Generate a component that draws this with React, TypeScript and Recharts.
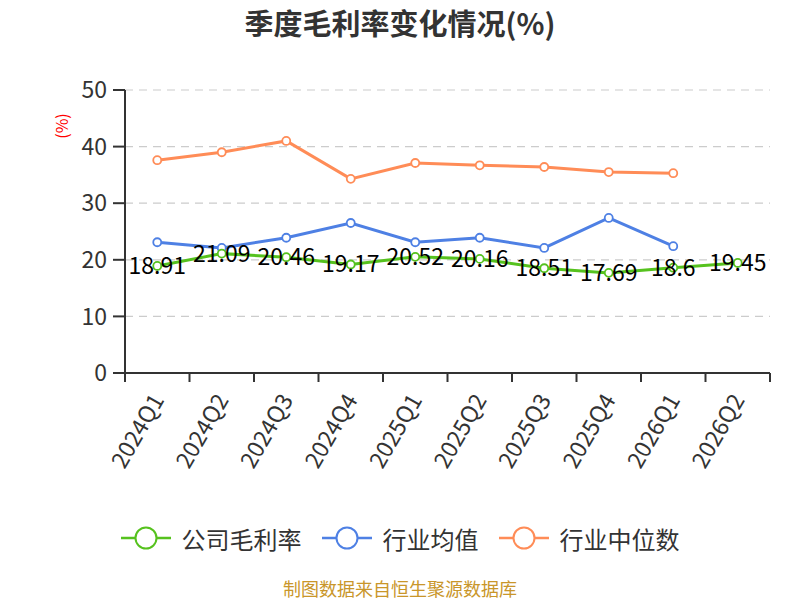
import React from 'react';
import { LineChart, Line, XAxis, YAxis, CartesianGrid, LabelList } from 'recharts';

const categories = ['2024Q1', '2024Q2', '2024Q3', '2024Q4', '2025Q1', '2025Q2', '2025Q3', '2025Q4', '2026Q1', '2026Q2'];
const companyMargin = [18.91, 21.09, 20.46, 19.17, 20.52, 20.16, 18.51, 17.69, 18.6, 19.45];
const industryAvg = [23.1, 22.1, 23.9, 26.5, 23.1, 23.9, 22.1, 27.4, 22.4, null];
const industryMedian = [37.6, 39.0, 41.0, 34.3, 37.1, 36.7, 36.4, 35.5, 35.3, null];
const yTicks = [0, 10, 20, 30, 40, 50];

const seriesNames = ['公司毛利率', '行业均值', '行业中位数'];
const colors = ['#56c21e', '#4e80e4', '#ff8c57'];

const data = categories.map((c, i) => ({
  name: c,
  company: companyMargin[i],
  avg: industryAvg[i],
  median: industryMedian[i],
}));

const W = 800;
const H = 600;
const LEFT = 125;
const RIGHT_MARGIN = 30;
const TOP = 90;
const X_AXIS_H = 227;
const PLOT_W = W - LEFT - RIGHT_MARGIN;
const PLOT_BOTTOM = H - X_AXIS_H;
const BAND = PLOT_W / categories.length;
const FONT = '"Noto Sans CJK SC", "Noto Sans", sans-serif';

const XTick = (props: any) => {
  const { x, payload, index } = props;
  const ay = PLOT_BOTTOM;
  const tx = x - 1;
  const ty = ay + 22;
  return (
    <g>
      <line x1={x - BAND / 2} x2={x - BAND / 2} y1={ay} y2={ay + 9} stroke="#333" strokeWidth={2} />
      {index === categories.length - 1 && (
        <line x1={x + BAND / 2} x2={x + BAND / 2} y1={ay} y2={ay + 9} stroke="#333" strokeWidth={2} />
      )}
      <text
        x={tx}
        y={ty}
        textAnchor="end"
        dominantBaseline="central"
        transform={`rotate(-60, ${tx}, ${ty})`}
        fontSize={23}
        fill="#333"
        fontFamily={FONT}
      >
        {payload.value}
      </text>
    </g>
  );
};

const ValueLabel = (props: any) => {
  const { x, y, value } = props;
  if (value == null) return null;
  return (
    <text x={x} y={y - 2} textAnchor="middle" dominantBaseline="central" fontSize={23} fill="#000" fontFamily={FONT}>
      {value}
    </text>
  );
};

const dot = (c: string) => ({ r: 4, fill: '#fff', stroke: c, strokeWidth: 1.8 });

export default function App() {
  return (
    <div style={{ position: 'absolute', left: 0, top: 0, width: W, height: H, background: '#fff', fontFamily: FONT, overflow: 'hidden' }}>
      <div
        style={{
          position: 'absolute', left: 0, top: 3, width: W, textAlign: 'center',
          fontSize: 29, fontWeight: 'bold', color: '#333', lineHeight: '38px',
        }}
      >
        季度毛利率变化情况(%)
      </div>
      <div
        style={{
          position: 'absolute', left: 61, top: 126, transform: 'translate(-50%, -50%) rotate(-90deg)',
          fontSize: 16, color: '#f00', whiteSpace: 'nowrap', lineHeight: '20px',
        }}
      >
        (%)
      </div>
      <LineChart width={W} height={H} data={data} margin={{ top: TOP, right: RIGHT_MARGIN, bottom: 0, left: 0 }}>
        <CartesianGrid vertical={false} stroke="#ccc" strokeDasharray="8 6" strokeWidth={1.2} />
        <XAxis
          dataKey="name"
          height={X_AXIS_H}
          interval={0}
          padding={{ left: BAND / 2, right: BAND / 2 }}
          tickLine={false}
          axisLine={{ stroke: '#333', strokeWidth: 2 }}
          tick={<XTick />}
        />
        <YAxis
          width={LEFT}
          domain={[0, 50]}
          ticks={yTicks}
          interval={0}
          tickSize={12}
          tickMargin={6}
          axisLine={{ stroke: '#333', strokeWidth: 2 }}
          tickLine={{ stroke: '#333', strokeWidth: 2 }}
          tick={{ fontSize: 23, fill: '#333', fontFamily: FONT }}
        />
        <Line dataKey="median" stroke={colors[2]} strokeWidth={3} dot={dot(colors[2])} isAnimationActive={false} />
        <Line dataKey="avg" stroke={colors[1]} strokeWidth={3} dot={dot(colors[1])} isAnimationActive={false} />
        <Line dataKey="company" stroke={colors[0]} strokeWidth={3} dot={dot(colors[0])} isAnimationActive={false}>
          <LabelList dataKey="company" content={<ValueLabel />} />
        </Line>
      </LineChart>
      <div
        style={{
          position: 'absolute', left: 0, top: 519, width: W, display: 'flex',
          justifyContent: 'center', gap: 20,
        }}
      >
        {seriesNames.map((n, i) => (
          <div key={n} style={{ display: 'flex', alignItems: 'center', height: 38 }}>
            <svg width={50} height={26} style={{ marginRight: 11 }}>
              <line x1={0} x2={50} y1={13} y2={13} stroke={colors[i]} strokeWidth={2.5} />
              <circle cx={25} cy={13} r={10.5} fill="#fff" stroke={colors[i]} strokeWidth={2} />
            </svg>
            <span style={{ fontSize: 24, color: '#333', whiteSpace: 'nowrap' }}>{n}</span>
          </div>
        ))}
      </div>
      <div
        style={{
          position: 'absolute', left: 0, top: 577, width: W, textAlign: 'center',
          fontSize: 18, color: '#c9962a', lineHeight: '22px',
        }}
      >
        制图数据来自恒生聚源数据库
      </div>
    </div>
  );
}
